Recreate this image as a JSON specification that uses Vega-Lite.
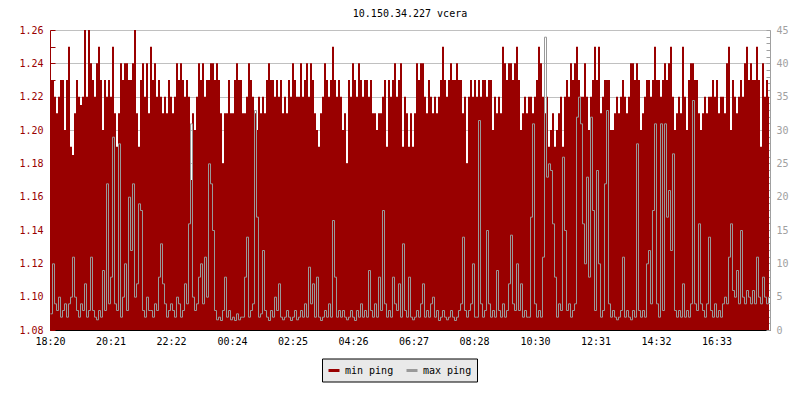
{
  "$schema": "https://vega.github.io/schema/vega-lite/v6.json",
  "width": 720,
  "height": 300,
  "autosize": "none",
  "padding": {"left": 50, "top": 30, "right": 30, "bottom": 70},
  "background": "white",
  "config": {
    "font": "DejaVu Sans Mono",
    "view": {"stroke": null},
    "axis": {"labelFont": "DejaVu Sans Mono", "labelFontSize": 10, "titleFontSize": 10}
  },
  "title": {"text": "10.150.34.227 vcera", "font": "DejaVu Sans Mono", "fontSize": 10, "fontWeight": "normal", "color": "black", "anchor": "middle", "offset": 6},
  "data": {
    "values": "t,a,b\n0,1.23,2.5\n4,1.23,10\n8,1.22,4\n12,1.21,3\n16,1.22,5\n20,1.23,2\n24,1.23,3\n28,1.20,4\n32,1.23,2\n36,1.25,4\n40,1.19,5\n44,1.185,11\n48,1.21,5\n52,1.23,3\n56,1.22,2\n60,1.215,4\n64,1.22,3\n68,1.26,7\n72,1.22,2\n76,1.26,3\n80,1.24,11\n84,1.23,3\n88,1.22,2\n92,1.24,1.6\n96,1.25,3\n100,1.23,2\n104,1.20,9\n108,1.23,3\n112,1.22,22\n116,1.23,4\n120,1.22,8\n124,1.25,29\n128,1.21,4\n132,1.19,3\n136,1.21,28\n140,1.24,2\n144,1.23,5\n148,1.24,10\n152,1.24,3\n156,1.23,20\n160,1.23,12\n164,1.24,22\n168,1.26,5\n172,1.21,7\n176,1.19,19\n180,1.23,18\n184,1.24,3\n188,1.22,2\n192,1.24,5\n196,1.21,3\n200,1.25,3\n204,1.23,2\n208,1.24,4\n212,1.22,3\n216,1.23,8\n220,1.22,13\n224,1.21,7\n228,1.22,4\n232,1.21,2\n236,1.23,3\n240,1.22,4\n244,1.21,3\n248,1.22,2\n252,1.24,5\n256,1.23,4\n260,1.24,2\n264,1.23,3\n268,1.22,7\n272,1.23,4\n276,1.22,16\n280,1.17,31\n284,1.21,5\n288,1.20,3\n292,1.22,4\n296,1.24,8\n300,1.23,10\n304,1.24,4\n308,1.22,11\n312,1.23,5\n316,1.23,25\n320,1.24,22\n324,1.24,15\n328,1.23,3\n332,1.24,1.6\n336,1.23,2\n340,1.21,1.5\n344,1.18,3\n348,1.21,8\n352,1.21,2\n356,1.23,3\n360,1.21,1.6\n364,1.21,2\n368,1.23,1.5\n372,1.24,2.5\n376,1.23,1.6\n380,1.23,2\n384,1.21,2\n388,1.21,8\n392,1.22,14\n396,1.24,2\n400,1.23,3\n404,1.22,4\n408,1.21,33\n412,1.20,17\n416,1.22,2\n420,1.21,2.5\n424,1.22,12\n428,1.21,3\n432,1.23,2\n436,1.24,1.5\n440,1.23,3\n444,1.23,2\n448,1.22,5\n452,1.23,3\n456,1.22,7\n460,1.23,2\n464,1.21,1.6\n468,1.22,2\n472,1.21,3\n476,1.23,2\n480,1.22,1.5\n484,1.24,2\n488,1.23,3\n492,1.22,1.6\n496,1.22,2\n500,1.24,3\n504,1.22,2\n508,1.23,4\n512,1.24,2\n516,1.22,9.5\n520,1.24,4\n524,1.23,7\n528,1.21,2\n532,1.20,8\n536,1.19,2\n540,1.21,1.5\n544,1.22,2\n548,1.24,3\n552,1.23,2\n556,1.22,4\n560,1.23,2\n564,1.25,16.5\n568,1.23,8\n572,1.22,2\n576,1.23,3\n580,1.22,2\n584,1.20,3\n588,1.21,2\n592,1.18,1.6\n596,1.23,2\n600,1.22,3\n604,1.24,2\n608,1.23,1.5\n612,1.22,3\n616,1.24,2\n620,1.23,4\n624,1.22,2\n628,1.23,3\n632,1.23,2\n636,1.22,9\n640,1.23,3\n644,1.21,2\n648,1.21,4\n652,1.20,2\n656,1.21,8\n660,1.21,3\n664,1.22,18\n668,1.23,4\n672,1.19,2\n676,1.23,3\n680,1.22,2\n684,1.23,8\n688,1.24,4\n692,1.22,3\n696,1.23,7\n700,1.24,2\n704,1.19,13\n708,1.22,3\n712,1.21,2\n716,1.19,8\n720,1.21,2\n724,1.19,1.6\n728,1.21,2\n732,1.24,3\n736,1.23,2\n740,1.24,4\n744,1.24,7\n748,1.22,2\n752,1.21,3\n756,1.23,2\n760,1.22,4\n764,1.21,5\n768,1.22,2\n772,1.21,3\n776,1.22,1.5\n780,1.23,2\n784,1.25,3\n788,1.23,2\n792,1.22,1.6\n796,1.23,2\n800,1.24,3\n804,1.23,2\n808,1.23,1.5\n812,1.24,2\n816,1.23,3\n820,1.23,4\n824,1.21,14\n828,1.22,3\n832,1.18,2\n836,1.22,3\n840,1.23,4\n844,1.22,10\n848,1.23,2\n852,1.22,2\n856,1.23,31.5\n860,1.22,4\n864,1.23,2\n868,1.23,3\n872,1.22,15\n876,1.23,4\n880,1.23,2\n884,1.20,3\n888,1.22,2\n892,1.21,9\n896,1.22,3\n900,1.21,2\n904,1.25,4\n908,1.24,2\n912,1.23,3\n916,1.24,7\n920,1.24,14.3\n924,1.23,4\n928,1.24,3\n932,1.25,10\n936,1.23,3\n940,1.20,7\n944,1.21,2\n948,1.22,3\n952,1.21,2\n956,1.22,2\n960,1.22,17\n964,1.21,31\n968,1.22,4\n972,1.23,2\n976,1.25,3\n980,1.24,2\n984,1.22,11\n988,1.21,44\n992,1.22,23\n996,1.19,25\n1000,1.20,24\n1004,1.21,16\n1008,1.19,8\n1012,1.20,2\n1016,1.21,4\n1020,1.22,3\n1024,1.19,26\n1028,1.22,15\n1032,1.23,3\n1036,1.22,4\n1040,1.24,2\n1044,1.23,3\n1048,1.24,4\n1052,1.25,32\n1056,1.23,35\n1060,1.22,31\n1064,1.22,16\n1068,1.24,10\n1072,1.22,23\n1076,1.20,8\n1080,1.22,32\n1084,1.23,18\n1088,1.25,3\n1092,1.23,24\n1096,1.25,10\n1100,1.21,2\n1104,1.22,3\n1108,1.23,22\n1112,1.23,33\n1116,1.23,4\n1120,1.20,2\n1124,1.20,3\n1128,1.21,2\n1132,1.22,1.6\n1136,1.21,2\n1140,1.22,3\n1144,1.23,11\n1148,1.22,2\n1152,1.21,3\n1156,1.22,2\n1160,1.24,1.6\n1164,1.24,3\n1168,1.23,2\n1172,1.24,28\n1176,1.23,3\n1180,1.20,2\n1184,1.21,3\n1188,1.22,2\n1192,1.23,10\n1196,1.23,12\n1200,1.22,4\n1204,1.23,18\n1208,1.25,31\n1212,1.23,4\n1216,1.23,2\n1220,1.22,31\n1224,1.23,3\n1228,1.24,31\n1232,1.23,17\n1236,1.24,21\n1240,1.25,12\n1244,1.22,26.5\n1248,1.20,3\n1252,1.21,2\n1256,1.22,3\n1260,1.21,2\n1264,1.25,7\n1268,1.22,2\n1272,1.20,3\n1276,1.23,2\n1280,1.24,4\n1284,1.24,34.5\n1288,1.23,4\n1292,1.23,3\n1296,1.21,16\n1300,1.20,4\n1304,1.21,3\n1308,1.22,2\n1312,1.21,4\n1316,1.22,14\n1320,1.22,3\n1324,1.23,2\n1328,1.22,4\n1332,1.23,2\n1336,1.21,3\n1340,1.22,2\n1344,1.22,4\n1348,1.21,5\n1352,1.24,4\n1356,1.25,11\n1360,1.20,16\n1364,1.23,6\n1368,1.22,5\n1372,1.21,9\n1376,1.22,4\n1380,1.23,15\n1384,1.22,5\n1388,1.24,4\n1392,1.25,6\n1396,1.23,5\n1400,1.24,4\n1404,1.23,6\n1408,1.23,4\n1412,1.25,11\n1416,1.23,5\n1420,1.19,4\n1424,1.24,8\n1428,1.22,5\n1432,1.23,4\n1436,1.22,5\n1438,1.22,5",
    "format": {"type": "csv", "parse": {"t": "number", "a": "number", "b": "number"}}
  },
  "layer": [
    {
      "mark": {"type": "area", "interpolate": "step-after", "clip": true},
      "encoding": {
        "x": {
          "field": "t", "type": "quantitative",
          "scale": {"domain": [0, 1440], "nice": false, "zero": false},
          "axis": {
            "title": null, "grid": false,
            "values": [0, 121, 242, 364, 485, 606, 727, 848, 970, 1091, 1212, 1333],
            "labelExpr": "timeFormat(datetime(2020, 0, 1, 18, 20 + datum.value), '%H:%M')",
            "domainColor": "black", "domainWidth": 1,
            "tickColor": "black", "tickSize": -5,
            "labelColor": "black", "labelPadding": 11, "labelFlush": false
          }
        },
        "y": {
          "field": "a", "type": "quantitative",
          "scale": {"domain": [1.08, 1.26], "nice": false, "zero": false},
          "axis": {
            "title": null, "orient": "left",
            "values": [1.08, 1.09, 1.1, 1.11, 1.12, 1.13, 1.14, 1.15, 1.16, 1.17, 1.18, 1.19, 1.2, 1.21, 1.22, 1.23, 1.24, 1.25, 1.26],
            "labelExpr": "round(datum.value * 100) % 2 == 0 ? format(datum.value, '.2f') : ''",
            "grid": true, "gridColor": "#c0c0c0", "gridWidth": 1,
            "gridOpacity": {"condition": {"test": "round(datum.value * 100) % 2 == 1", "value": 0}, "value": 1},
            "domainColor": "#990000", "tickColor": "#990000", "tickSize": -5,
            "labelColor": "#990000", "labelPadding": 12, "labelFlush": false
          }
        },
        "color": {
          "datum": "min ping", "type": "nominal",
          "scale": {"domain": ["min ping", "max ping"], "range": ["#990000", "#999999"]},
          "legend": {
            "title": null, "orient": "none", "legendX": 272, "legendY": 328.5,
            "direction": "horizontal", "zindex": 2,
            "fillColor": "#e9e9e9", "strokeColor": "black", "padding": 5,
            "symbolType": "stroke", "symbolSize": 121, "symbolStrokeWidth": 3,
            "labelFont": "DejaVu Sans Mono", "labelFontSize": 10, "labelColor": "black",
            "labelOffset": 4, "columnPadding": 6
          }
        }
      }
    },
    {
      "mark": {"type": "line", "interpolate": "step-after", "strokeWidth": 1, "clip": true, "xOffset": 0.5, "yOffset": 0.5},
      "encoding": {
        "x": {"field": "t", "type": "quantitative"},
        "y": {
          "field": "b", "type": "quantitative",
          "scale": {"domain": [0, 45], "nice": false},
          "axis": {
            "title": null, "orient": "right", "grid": false,
            "values": [0,1,2,3,4,5,6,7,8,9,10,11,12,13,14,15,16,17,18,19,20,21,22,23,24,25,26,27,28,29,30,31,32,33,34,35,36,37,38,39,40,41,42,43,44,45],
            "labelExpr": "datum.value % 5 == 0 ? datum.label : ''",
            "domainColor": "#a0a0a0", "tickColor": "#a0a0a0", "tickSize": -4,
            "labelColor": "#a0a0a0", "labelPadding": 10, "labelFlush": false
          }
        },
        "color": {"datum": "max ping", "type": "nominal"}
      }
    }
  ],
  "resolve": {"scale": {"y": "independent"}}
}
